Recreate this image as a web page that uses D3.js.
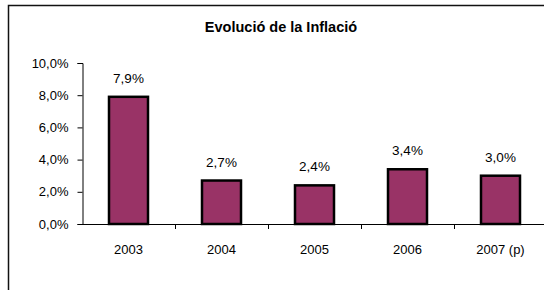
<!DOCTYPE html>
<head>
	<meta charset="utf-8">
	<script src="https://d3js.org/d3.v7.min.js"></script>
	<style>
		body { margin: 0; background: #fff; }
		text { font-family: Arial, "Liberation Sans", sans-serif; fill: #000; }
	</style>
</head>
<body>
	<script type="text/javascript">

		var categories = ["2003", "2004", "2005", "2006", "2007 (p)"];
		var inflacio = [7.9, 2.7, 2.4, 3.4, 3.0];
		var yTicks = [0, 2, 4, 6, 8, 10];
		var titol = "Evolució de la Inflació";

		var w = 544;
		var h = 290;
		var svg = d3.select("body")
				.append("svg")
				.attr("width", w)
				.attr("height", h);

		// chart frame (cut off at right and bottom)
		svg.append("rect")
			.attr("x", 8.5)
			.attr("y", 5.5)
			.attr("width", 600)
			.attr("height", 400)
			.attr("fill", "none")
			.attr("stroke", "#111")
			.attr("stroke-width", 1.5);

		svg.append("text")
			.attr("x", 281)
			.attr("y", 32)
			.attr("text-anchor", "middle")
			.style("font-size", "14.5px")
			.style("font-weight", "bold")
			.text(titol);

		var x0 = 82, y0 = 224;
		var xScale = d3.scaleBand()
				.domain(categories)
				.range([x0, x0 + 5 * 93])
				.padding(0);

		var yScale = d3.scaleLinear()
				.domain([0, 10])
				.range([y0, 63]);

		var fmt = function(d) { return d.toFixed(1).replace(".", ",") + "%"; };

		// y axis
		var yAxis = d3.axisLeft(yScale)
				.tickValues(yTicks)
				.tickFormat(fmt)
				.tickSize(5)
				.tickPadding(9);

		var gy = svg.append("g")
			.attr("transform", "translate(" + (x0 + 0.5) + ",0)")
			.call(yAxis);
		gy.select(".domain").attr("stroke", "#000");
		gy.selectAll(".tick line").attr("stroke", "#000");
		gy.selectAll("text")
			.style("font-size", "13px")
			.style("font-family", "Arial, 'Liberation Sans', sans-serif");

		// bars
		var barW = 39;
		svg.selectAll("rect.bar")
			.data(inflacio)
			.enter()
			.append("rect")
			.attr("class", "bar")
			.attr("x", function(d, i) { return xScale(categories[i]) + xScale.bandwidth() / 2 - barW / 2; })
			.attr("y", function(d) { return yScale(d); })
			.attr("width", barW)
			.attr("height", function(d) { return y0 - yScale(d); })
			.attr("fill", "#993366")
			.attr("stroke", "#000")
			.attr("stroke-width", 2.5);

		// x axis
		svg.append("line")
			.attr("x1", x0)
			.attr("x2", w + 10)
			.attr("y1", y0 + 0.5)
			.attr("y2", y0 + 0.5)
			.attr("stroke", "#000");

		svg.selectAll("line.xtick")
			.data(categories.slice(1))
			.enter()
			.append("line")
			.attr("class", "xtick")
			.attr("x1", function(d) { return Math.round(xScale(d)) + 0.5; })
			.attr("x2", function(d) { return Math.round(xScale(d)) + 0.5; })
			.attr("y1", y0)
			.attr("y2", y0 + 5)
			.attr("stroke", "#000");

		svg.selectAll("text.cat")
			.data(categories)
			.enter()
			.append("text")
			.attr("class", "cat")
			.attr("x", function(d) { return xScale(d) + xScale.bandwidth() / 2; })
			.attr("y", y0 + 30)
			.attr("text-anchor", "middle")
			.style("font-size", "13px")
			.text(function(d) { return d; });

		// data labels
		svg.selectAll("text.val")
			.data(inflacio)
			.enter()
			.append("text")
			.attr("class", "val")
			.attr("x", function(d, i) { return xScale(categories[i]) + xScale.bandwidth() / 2; })
			.attr("y", function(d) { return yScale(d) - 14; })
			.attr("text-anchor", "middle")
			.style("font-size", "13.5px")
			.text(fmt);

	</script>
</body>
